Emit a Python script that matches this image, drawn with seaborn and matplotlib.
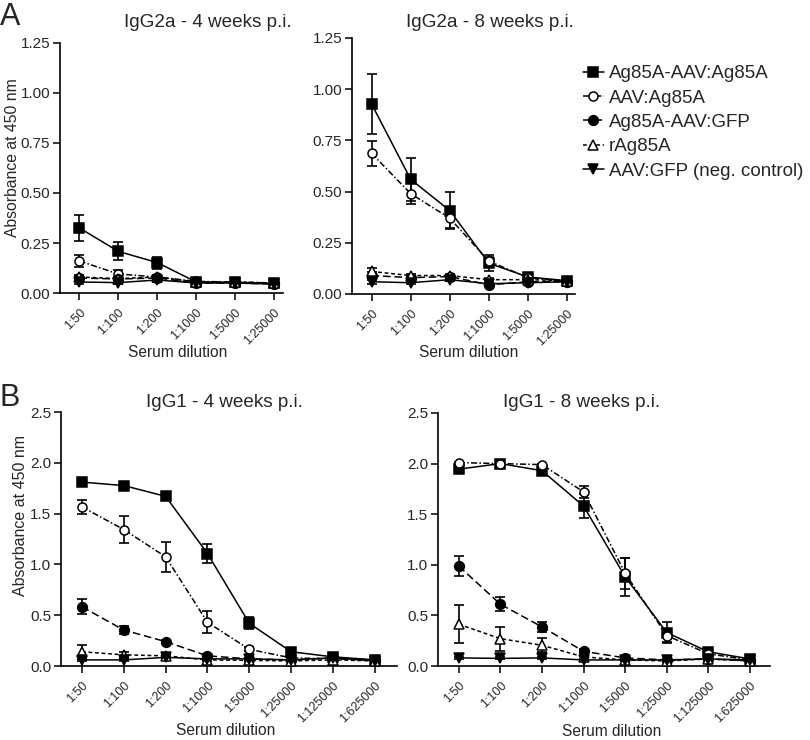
import numpy as np
import pandas as pd
import matplotlib
matplotlib.use("Agg")
import matplotlib.pyplot as plt
import seaborn as sns

# ---------------- data ----------------
series = ["Ag85A-AAV:Ag85A", "AAV:Ag85A", "Ag85A-AAV:GFP", "rAg85A", "AAV:GFP (neg. control)"]

dil_short = ["1:50", "1:100", "1:200", "1:1000", "1:5000", "1:25000"]
dil_long = ["1:50", "1:100", "1:200", "1:1000", "1:5000", "1:25000", "1:125000", "1:625000"]

# IgG2a - 4 weeks p.i.
g2a4_mean = {
    "Ag85A-AAV:Ag85A": [0.325, 0.208, 0.152, 0.055, 0.053, 0.048],
    "AAV:Ag85A": [0.160, 0.095, 0.080, 0.058, 0.055, 0.050],
    "Ag85A-AAV:GFP": [0.075, 0.070, 0.075, 0.050, 0.050, 0.045],
    "rAg85A": [0.080, 0.072, 0.080, 0.055, 0.055, 0.050],
    "AAV:GFP (neg. control)": [0.055, 0.052, 0.065, 0.050, 0.050, 0.045],
}
g2a4_err = {
    "Ag85A-AAV:Ag85A": [0.063, 0.045, 0.030, 0.008, 0.008, 0.008],
    "AAV:Ag85A": [0.030, 0.020, 0.010, 0.005, 0.005, 0.005],
    "Ag85A-AAV:GFP": [0.010, 0.008, 0.008, 0.005, 0.005, 0.005],
    "rAg85A": [0.010, 0.008, 0.008, 0.005, 0.005, 0.005],
    "AAV:GFP (neg. control)": [0.008, 0.008, 0.008, 0.005, 0.005, 0.005],
}

# IgG2a - 8 weeks p.i.
g2a8_mean = {
    "Ag85A-AAV:Ag85A": [0.928, 0.560, 0.407, 0.150, 0.083, 0.065],
    "AAV:Ag85A": [0.687, 0.490, 0.370, 0.160, 0.080, 0.060],
    "Ag85A-AAV:GFP": [0.090, 0.080, 0.085, 0.045, 0.060, 0.060],
    "rAg85A": [0.110, 0.090, 0.090, 0.070, 0.070, 0.065],
    "AAV:GFP (neg. control)": [0.060, 0.055, 0.070, 0.050, 0.055, 0.060],
}
g2a8_err = {
    "Ag85A-AAV:Ag85A": [0.145, 0.105, 0.090, 0.040, 0.010, 0.008],
    "AAV:Ag85A": [0.060, 0.050, 0.050, 0.020, 0.008, 0.008],
    "Ag85A-AAV:GFP": [0.015, 0.010, 0.010, 0.005, 0.005, 0.005],
    "rAg85A": [0.015, 0.010, 0.010, 0.008, 0.008, 0.005],
    "AAV:GFP (neg. control)": [0.010, 0.008, 0.008, 0.005, 0.005, 0.005],
}

# IgG1 - 4 weeks p.i.
g14_mean = {
    "Ag85A-AAV:Ag85A": [1.81, 1.776, 1.67, 1.107, 0.42, 0.14, 0.09, 0.06],
    "AAV:Ag85A": [1.566, 1.343, 1.075, 0.43, 0.164, 0.08, 0.07, 0.06],
    "Ag85A-AAV:GFP": [0.583, 0.354, 0.24, 0.10, 0.07, 0.06, 0.08, 0.06],
    "rAg85A": [0.14, 0.11, 0.10, 0.06, 0.055, 0.05, 0.06, 0.05],
    "AAV:GFP (neg. control)": [0.06, 0.06, 0.085, 0.07, 0.07, 0.06, 0.08, 0.05],
}
g14_err = {
    "Ag85A-AAV:Ag85A": [0.02, 0.02, 0.02, 0.09, 0.06, 0.02, 0.02, 0.01],
    "AAV:Ag85A": [0.07, 0.13, 0.15, 0.11, 0.02, 0.01, 0.01, 0.01],
    "Ag85A-AAV:GFP": [0.075, 0.04, 0.02, 0.02, 0.01, 0.01, 0.01, 0.01],
    "rAg85A": [0.07, 0.03, 0.02, 0.01, 0.01, 0.01, 0.01, 0.01],
    "AAV:GFP (neg. control)": [0.01, 0.01, 0.01, 0.01, 0.01, 0.01, 0.01, 0.01],
}

# IgG1 - 8 weeks p.i.
g18_mean = {
    "Ag85A-AAV:Ag85A": [1.945, 2.00, 1.93, 1.58, 0.88, 0.33, 0.14, 0.07],
    "AAV:Ag85A": [2.01, 2.00, 1.99, 1.72, 0.915, 0.30, 0.12, 0.06],
    "Ag85A-AAV:GFP": [0.987, 0.61, 0.386, 0.145, 0.08, 0.06, 0.07, 0.05],
    "rAg85A": [0.413, 0.27, 0.205, 0.09, 0.06, 0.05, 0.07, 0.05],
    "AAV:GFP (neg. control)": [0.08, 0.075, 0.08, 0.06, 0.06, 0.06, 0.07, 0.06],
}
g18_err = {
    "Ag85A-AAV:Ag85A": [0.02, 0.01, 0.02, 0.12, 0.19, 0.10, 0.02, 0.01],
    "AAV:Ag85A": [0.01, 0.01, 0.01, 0.06, 0.15, 0.06, 0.02, 0.01],
    "Ag85A-AAV:GFP": [0.10, 0.07, 0.05, 0.02, 0.01, 0.01, 0.01, 0.01],
    "rAg85A": [0.19, 0.12, 0.07, 0.02, 0.01, 0.01, 0.01, 0.01],
    "AAV:GFP (neg. control)": [0.01, 0.01, 0.01, 0.01, 0.01, 0.01, 0.01, 0.01],
}

# ---------------- styles ----------------
styles = {
    "Ag85A-AAV:Ag85A": dict(marker="s", mfc="black", ls="-", ms=7.5),
    "AAV:Ag85A": dict(marker="o", mfc="white", ls=(0, (4, 1.5, 1, 1.5)), ms=6.5),
    "Ag85A-AAV:GFP": dict(marker="o", mfc="black", ls=(0, (5, 2.5)), ms=7),
    "rAg85A": dict(marker="^", mfc="white", ls=(0, (2.5, 1.8)), ms=7.5),
    "AAV:GFP (neg. control)": dict(marker="v", mfc="black", ls="-", ms=7.5),
}

sns.set_style("ticks")
plt.rcParams["font.family"] = ["Liberation Sans", "DejaVu Sans"]

fig = plt.figure(figsize=(8.1, 7.4), dpi=100)

W, H = 810.0, 740.0


def axes_px(x0, x1, ytop, ybot):
    return fig.add_axes([x0 / W, 1 - ybot / H, (x1 - x0) / W, (ybot - ytop) / H])


panels = [
    dict(box=(60, 283, 43, 293), mean=g2a4_mean, err=g2a4_err, labels=dil_short,
         ylim=1.25, yticks=[0, 0.25, 0.5, 0.75, 1.0, 1.25], yfmt="{:.2f}", xr=0.23),
    dict(box=(352, 575, 38, 294), mean=g2a8_mean, err=g2a8_err, labels=dil_short,
         ylim=1.25, yticks=[0, 0.25, 0.5, 0.75, 1.0, 1.25], yfmt="{:.2f}", xr=0.2),
    dict(box=(61, 397, 412, 666), mean=g14_mean, err=g14_err, labels=dil_long,
         ylim=2.5, yticks=[0, 0.5, 1.0, 1.5, 2.0, 2.5], yfmt="{:.1f}", xr=0.53),
    dict(box=(438, 770, 413, 666), mean=g18_mean, err=g18_err, labels=dil_long,
         ylim=2.5, yticks=[0, 0.5, 1.0, 1.5, 2.0, 2.5], yfmt="{:.1f}", xr=0.48),
]

handles = None
for p in panels:
    ax = axes_px(*p["box"])
    labels = p["labels"]
    xpos = np.arange(len(labels))
    for name in series:
        st = styles[name]
        y = np.array(p["mean"][name])
        e = np.array(p["err"][name])
        ax.errorbar(xpos, y, yerr=e, fmt="none", ecolor="black", elinewidth=1.2,
                    capsize=3.5, capthick=1.2, zorder=2)
        df = pd.DataFrame({"x": xpos, "y": y})
        sns.lineplot(data=df, x="x", y="y", ax=ax, errorbar=None, color="black",
                     marker=st["marker"], markersize=st["ms"], markerfacecolor=st["mfc"],
                     markeredgecolor="black", markeredgewidth=1.1,
                     linestyle=st["ls"], linewidth=1.1, label=name, zorder=3,
                     legend=False)
    ax.set_xlim(-0.5, len(labels) - 1 + p["xr"])
    ax.set_ylim(0, p["ylim"])
    ax.set_yticks(p["yticks"])
    ax.set_yticklabels([p["yfmt"].format(v) for v in p["yticks"]], fontsize=11)
    ax.set_xticks(xpos)
    ax.set_xticklabels(labels, rotation=45, ha="right", rotation_mode="anchor",
                       fontsize=9)
    ax.tick_params(axis="both", direction="out", length=5, width=1.1, color="black")
    ax.tick_params(axis="x", pad=5)
    ax.tick_params(axis="y", pad=2)
    for s in ["left", "bottom"]:
        ax.spines[s].set_linewidth(1.2)
        ax.spines[s].set_color("black")
    sns.despine(ax=ax)
    ax.set_xlabel("")
    ax.set_ylabel("")
    if handles is None:
        handles = ax.get_lines()

# Titles
fig.text(208 / W, 1 - 27 / H, "IgG2a - 4 weeks p.i.", ha="center", va="baseline", fontsize=13.6)
fig.text(490 / W, 1 - 27 / H, "IgG2a - 8 weeks p.i.", ha="center", va="baseline", fontsize=13.6)
fig.text(224 / W, 1 - 407 / H, "IgG1 - 4 weeks p.i.", ha="center", va="baseline", fontsize=13.6)
fig.text(582 / W, 1 - 407 / H, "IgG1 - 8 weeks p.i.", ha="center", va="baseline", fontsize=13.6)

# Panel letters
fig.text(0 / W, 1 - 25 / H, "A", ha="left", va="baseline", fontsize=22)
fig.text(0 / W, 1 - 406 / H, "B", ha="left", va="baseline", fontsize=22)

# Axis labels
fig.text(13 / W, 1 - 158 / H, "Absorbance at 450 nm", rotation=90, ha="center", va="center", fontsize=11.3)
fig.text(21 / W, 1 - 516 / H, "Absorbance at 450 nm", rotation=90, ha="center", va="center", fontsize=11.5)
fig.text(178 / W, 1 - 357 / H, "Serum dilution", ha="center", va="baseline", fontsize=11.2)
fig.text(469 / W, 1 - 357 / H, "Serum dilution", ha="center", va="baseline", fontsize=11.2)
fig.text(226 / W, 1 - 735 / H, "Serum dilution", ha="center", va="baseline", fontsize=11.2)
fig.text(612 / W, 1 - 736 / H, "Serum dilution", ha="center", va="baseline", fontsize=11.2)

# Legend
line_handles = [h for h in handles if h.get_label() in series]
fig.legend(line_handles, series, loc="upper left", bbox_to_anchor=(583 / W, 1 - 65 / H),
           frameon=False, fontsize=13.5, handlelength=1.1, handletextpad=0.3,
           labelspacing=0.39, borderpad=0, borderaxespad=0)

fig.savefig("out.png", dpi=100)
